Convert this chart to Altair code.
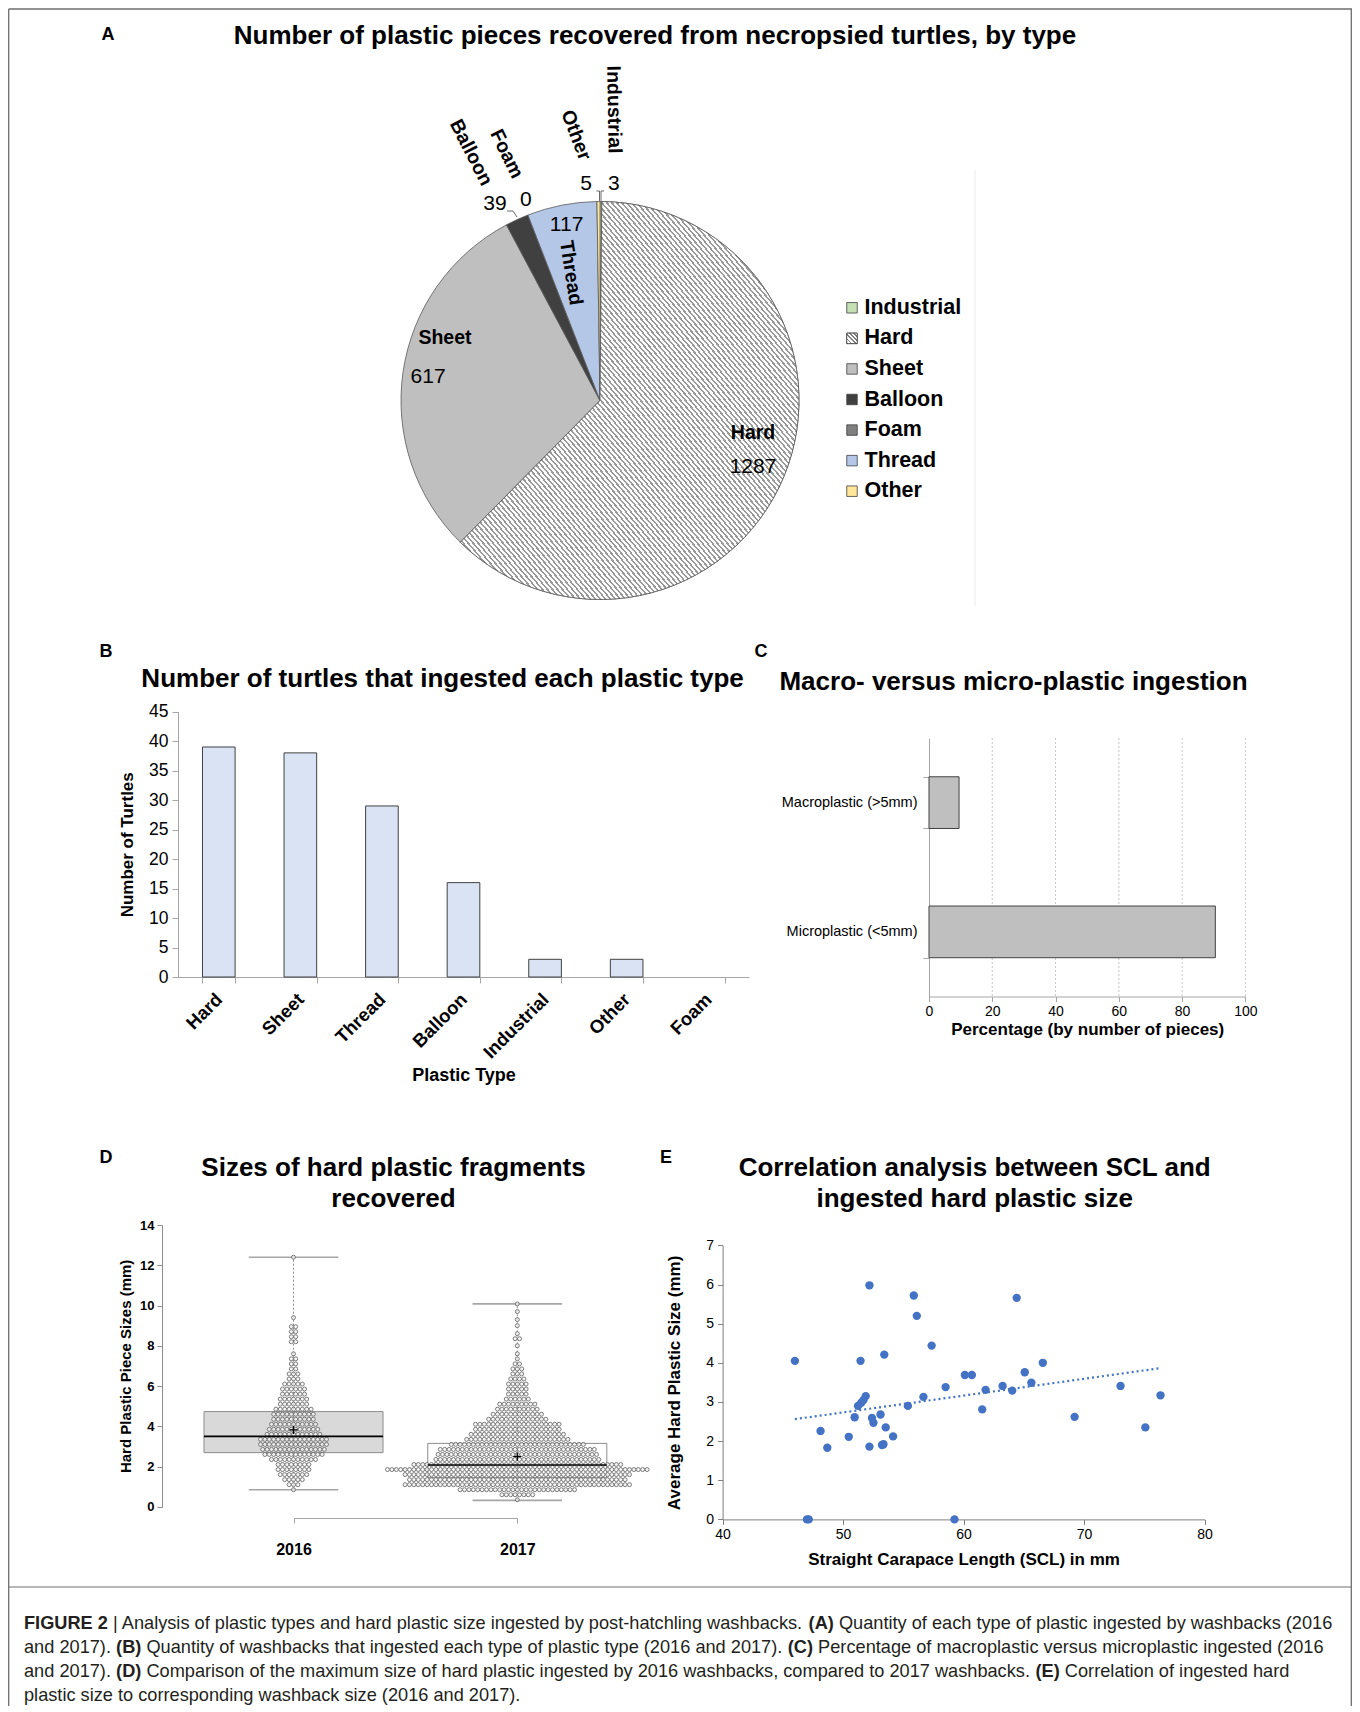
import math
import altair as alt
import pandas as pd

FONT = "Liberation Sans, Arial, Helvetica, sans-serif"

# ============================ data ============================
# Panel A - number of plastic pieces by type
pie_types = ["Industrial", "Hard", "Sheet", "Balloon", "Foam", "Thread", "Other"]
pie_counts = [3, 1287, 617, 39, 0, 117, 5]

# Panel B - number of turtles that ingested each type
turtle_types = ["Hard", "Sheet", "Thread", "Balloon", "Industrial", "Other", "Foam"]
turtle_counts = [39, 38, 29, 16, 3, 3, 0]

# Panel C - macro vs micro plastic (% of pieces)
size_classes = ["Macroplastic (>5mm)", "Microplastic (<5mm)"]
size_percent = [9.5, 90.5]

# Panel D - box plot summaries per year
years = ["2016", "2017"]
box_low = [0.85, 0.32]
box_q1 = [2.69, 1.45]
box_median = [3.50, 2.08]
box_q3 = [4.73, 3.15]
box_high = [12.40, 10.08]
box_mean = [3.82, 2.49]

# Panel D - beeswarm rows (piece size in mm, number of pieces in the row)
swarm16_size = [0.85, 1.1, 1.35, 1.6, 1.85, 2.1, 2.35, 2.6, 2.85, 3.1, 3.35, 3.6, 3.85,
                4.1, 4.35, 4.6, 4.85, 5.1, 5.35, 5.6, 5.85, 6.1, 6.35, 6.6, 6.85, 7.1,
                7.35, 7.6, 8.2, 8.45, 8.7, 8.95, 9.4, 12.4]
swarm16_count = [1, 3, 5, 7, 8, 8, 11, 14, 15, 16, 16, 13, 12, 11, 10, 10, 9, 7, 7, 6,
                 6, 5, 3, 3, 2, 2, 2, 1, 2, 2, 2, 2, 1, 1]
swarm17_size = [0.35, 0.6, 0.85, 1.1, 1.35, 1.6, 1.85, 2.1, 2.35, 2.6, 2.85, 3.1, 3.35,
                3.6, 3.85, 4.1, 4.35, 4.6, 4.85, 5.1, 5.35, 5.6, 5.85, 6.1, 6.35, 6.6,
                6.85, 7.1, 7.35, 7.6, 8.0, 8.35, 8.6, 9.0, 9.3, 9.7, 10.08]
swarm17_count = [1, 8, 27, 52, 50, 52, 60, 48, 38, 37, 36, 31, 24, 22, 20, 20, 14, 12,
                 10, 9, 6, 5, 5, 5, 4, 3, 3, 2, 1, 1, 1, 2, 1, 1, 1, 1, 1]

# Panel E - SCL vs average hard plastic size
scl_mm = [46.0, 47.0, 47.15, 48.13, 48.69, 50.47, 50.96, 51.24, 51.45, 51.51, 51.70,
          51.88, 52.19, 52.19, 52.40, 52.52, 53.11, 53.23, 53.35, 53.42, 53.54, 54.15,
          55.38, 55.87, 56.12, 56.67, 57.35, 58.51, 59.25, 60.11, 60.69, 61.55, 61.83,
          63.24, 64.04, 64.41, 65.08, 65.63, 66.58, 69.22, 73.03, 75.09, 76.35]
avg_size_mm = [4.05, 0.0, 0.0, 2.26, 1.83, 2.11, 2.61, 2.90, 4.05, 2.98, 3.05, 3.15,
               5.98, 1.86, 2.59, 2.47, 2.68, 1.90, 1.92, 4.21, 2.35, 2.12, 2.90, 5.72,
               5.20, 3.13, 4.44, 3.38, 0.0, 3.69, 3.69, 2.81, 3.31, 3.41, 3.29, 5.66,
               3.76, 3.49, 4.00, 2.62, 3.41, 2.35, 3.17]

# Caption: (text, bold) segments per line
caption_segments = [
    [("FIGURE 2", True), (" | Analysis of plastic types and hard plastic size ingested by post-hatchling washbacks. ", False),
     ("(A)", True), (" Quantity of each type of plastic ingested by washbacks (2016", False)],
    [("and 2017). ", False), ("(B)", True),
     (" Quantity of washbacks that ingested each type of plastic type (2016 and 2017). ", False),
     ("(C)", True), (" Percentage of macroplastic versus microplastic ingested (2016", False)],
    [("and 2017). ", False), ("(D)", True),
     (" Comparison of the maximum size of hard plastic ingested by 2016 washbacks, compared to 2017 washbacks. ", False),
     ("(E)", True), (" Correlation of ingested hard", False)],
    [("plastic size to corresponding washback size (2016 and 2017).", False)],
]

# ============================ style / layout ============================
W, H = 1344, 1698
pie_colors = ["#c5e0b4", "#ffffff", "#bfbfbf", "#404040", "#7f7f7f", "#b4c7e7", "#ffe699"]

# Arial/Liberation Sans advance widths (1/1000 em) for laying out mixed-weight caption text
_REG = {" ": 278, "!": 278, "(": 333, ")": 333, ",": 278, "-": 333, ".": 278, "/": 278, ":": 278,
        ";": 278, "|": 260, ">": 584, "<": 584,
        "A": 667, "B": 667, "C": 722, "D": 722, "E": 667, "F": 611, "G": 778, "H": 722, "I": 278,
        "J": 500, "K": 667, "L": 556, "M": 833, "N": 722, "O": 778, "P": 667, "Q": 778, "R": 722,
        "S": 667, "T": 611, "U": 722, "V": 667, "W": 944, "X": 667, "Y": 667, "Z": 611,
        "a": 556, "b": 556, "c": 500, "d": 556, "e": 556, "f": 278, "g": 556, "h": 556, "i": 222,
        "j": 222, "k": 500, "l": 222, "m": 833, "n": 556, "o": 556, "p": 556, "q": 556, "r": 333,
        "s": 500, "t": 278, "u": 556, "v": 500, "w": 722, "x": 500, "y": 500, "z": 500}
_BOLD = {" ": 278, "(": 333, ")": 333, "A": 722, "B": 722, "C": 722, "D": 722, "E": 667, "F": 611,
         "G": 778, "I": 278, "R": 722, "U": 722, "2": 556}


def em_width(s, bold):
    tbl = _BOLD if bold else _REG
    return sum(tbl.get(ch, 556) for ch in s) / 1000.0


def P(v):
    """page pixel -> plot pixel (page has an 8px margin)"""
    return v - 8


def stripes(n, frac=0.42, line="#9a9a9a", bg="#ffffff"):
    stops = []
    for i in range(n):
        a = i / n
        b = (i + frac) / n
        c = (i + 1) / n
        stops += [{"offset": round(a, 6), "color": line}, {"offset": round(b, 6), "color": line},
                  {"offset": round(b, 6), "color": bg}, {"offset": round(min(c, 1.0), 6), "color": bg}]
    return {"gradient": "linear", "x1": 0, "y1": 1, "x2": 1, "y2": 0, "stops": stops}


def text_layer(txt, x, y, size, bold=False, align="center", color="black", angle=0):
    props = dict(align=align, baseline="middle", fontSize=size,
                 fontWeight="bold" if bold else "normal", font=FONT, color=color)
    if angle:
        props["angle"] = angle
    return alt.Chart(alt.Data(values=[{"t": txt}])).mark_text(**props).encode(
        x=alt.value(P(x)), y=alt.value(P(y)), text="t:N")


layers = []

# ============================ frame ============================
frame_color = "#6e6e6e"
one = alt.Data(values=[{"a": 1}])
layers.append(alt.Chart(one).mark_rule(color=frame_color, strokeWidth=1.3).encode(
    x=alt.value(0.7), x2=alt.value(1344), y=alt.value(1)))
layers.append(alt.Chart(one).mark_rule(color=frame_color, strokeWidth=1.3).encode(
    x=alt.value(0.7), y=alt.value(1), y2=alt.value(H)))
layers.append(alt.Chart(one).mark_rule(color=frame_color, strokeWidth=1.3).encode(
    x=alt.value(1343.3), y=alt.value(1), y2=alt.value(H)))
layers.append(alt.Chart(one).mark_rule(color=frame_color, strokeWidth=1.0).encode(
    x=alt.value(0.7), x2=alt.value(1343.3), y=alt.value(P(1587))))
# faint chart-area edge in panel A
layers.append(alt.Chart(one).mark_rule(color="#ececec", strokeWidth=1).encode(
    x=alt.value(P(975)), y=alt.value(P(169)), y2=alt.value(P(606))))

# ============================ panel A: pie ============================
CX, CY, R = P(600), P(400.5), 199
pie_df = pd.DataFrame({"type": pie_types, "count": pie_counts,
                       "order": list(range(len(pie_types)))})
total = sum(pie_counts)
pie_base = alt.Chart(pie_df).transform_window(
    cum="sum(count)", sort=[alt.SortField("order", order="ascending")], frame=[None, 0]
).transform_calculate(start="datum.cum - datum.count")
theta = alt.Theta("start:Q", scale=alt.Scale(domain=[0, total], range=[0, 2 * math.pi]), stack=False)
theta2 = alt.Theta2("cum:Q")

layers.append(pie_base.mark_arc(outerRadius=R, stroke="#595959", strokeWidth=0.8).encode(
    theta=theta, theta2=theta2, x=alt.value(CX), y=alt.value(CY),
    color=alt.Color("type:N", scale=alt.Scale(domain=pie_types, range=pie_colors), legend=None)))
layers.append(pie_base.transform_filter("datum.type === 'Hard'").mark_arc(
    outerRadius=R, fill=stripes(136), stroke="#595959", strokeWidth=0.8).encode(
    theta=theta, theta2=theta2, x=alt.value(CX), y=alt.value(CY)))

# label layout (in pie-radius units relative to the centre) - annotation positions
name_layout = {"Hard": (0.769, 0.163, 0), "Sheet": (-0.779, -0.314, 0),
               "Thread": (-0.146, -0.641, 81), "Balloon": (-0.648, -1.246, 63),
               "Foam": (-0.469, -1.239, 64), "Other": (-0.121, -1.334, 69),
               "Industrial": (0.070, -1.462, 89)}
num_layout = {"Hard": (0.769, 0.334), "Sheet": (-0.864, -0.120), "Thread": (-0.168, -0.882),
              "Balloon": (-0.528, -0.987), "Foam": (-0.373, -1.008), "Other": (-0.070, -1.088),
              "Industrial": (0.070, -1.088)}
pie_xs = alt.Scale(domain=[-1, 1], range=[CX - R, CX + R])
pie_ys = alt.Scale(domain=[-1, 1], range=[CY - R, CY + R])
names_df = pd.DataFrame({"type": pie_types,
                         "ux": [name_layout[t][0] for t in pie_types],
                         "uy": [name_layout[t][1] for t in pie_types],
                         "rot": [name_layout[t][2] for t in pie_types]})
nums_df = pd.DataFrame({"type": pie_types, "count": pie_counts,
                        "ux": [num_layout[t][0] for t in pie_types],
                        "uy": [num_layout[t][1] for t in pie_types]})
layers.append(alt.Chart(names_df).mark_text(fontSize=19.5, fontWeight="bold", font=FONT,
                                            color="black", baseline="middle").encode(
    x=alt.X("ux:Q", scale=pie_xs, axis=None), y=alt.Y("uy:Q", scale=pie_ys, axis=None),
    text="type:N", angle=alt.Angle("rot:Q", scale=None)))
layers.append(alt.Chart(nums_df).mark_text(fontSize=21, font=FONT, color="black",
                                           baseline="middle").encode(
    x=alt.X("ux:Q", scale=pie_xs, axis=None), y=alt.Y("uy:Q", scale=pie_ys, axis=None),
    text=alt.Text("count:Q")))

# small leader lines (annotation)
leader_pts = [(0, 507, 211), (0, 513, 211), (0, 517, 217),
              (1, 596.5, 191), (1, 599.5, 191), (1, 599.5, 201),
              (2, 604, 191), (2, 601, 191), (2, 601, 201)]
lead_df = pd.DataFrame({"seg": [p[0] for p in leader_pts],
                        "o": list(range(len(leader_pts))),
                        "ux": [(p[1] - 600) / R for p in leader_pts],
                        "uy": [(p[2] - 400.5) / R for p in leader_pts]})
layers.append(alt.Chart(lead_df).mark_line(color="#595959", strokeWidth=0.9).encode(
    x=alt.X("ux:Q", scale=pie_xs, axis=None), y=alt.Y("uy:Q", scale=pie_ys, axis=None),
    detail="seg:N", order="o:Q"))

# manual legend
leg_df = pd.DataFrame({"type": pie_types, "i": list(range(len(pie_types)))})
leg_y = alt.Y("i:Q", scale=alt.Scale(domain=[0, len(pie_types) - 1], range=[P(307.8), P(491.2)]), axis=None)
layers.append(alt.Chart(leg_df).mark_square(size=110, stroke="#404040", strokeWidth=0.8, opacity=1).encode(
    x=alt.value(P(852)), y=leg_y,
    color=alt.Color("type:N", scale=alt.Scale(domain=pie_types, range=pie_colors), legend=None)))
layers.append(alt.Chart(leg_df).transform_filter("datum.type === 'Hard'").mark_square(
    size=110, stroke="#404040", strokeWidth=0.8, opacity=1, fill=stripes(5, frac=0.35, line="#808080")).encode(
    x=alt.value(P(852)), y=leg_y))
layers.append(alt.Chart(leg_df).mark_text(align="left", baseline="middle", fontSize=21.5,
                                          fontWeight="bold", font=FONT, color="black").encode(
    x=alt.value(P(864.5)), y=leg_y, text="type:N"))

# ============================ panel B ============================
b_df = pd.DataFrame({"type": turtle_types, "n": turtle_counts})
layers.append(alt.Chart(b_df).transform_filter("datum.n > 0").mark_bar(
    fill="#dae3f3", stroke="#404040", strokeWidth=1).encode(
    x=alt.X("type:N", sort=turtle_types,
            scale=alt.Scale(domain=turtle_types, range=[P(178), P(749)], paddingInner=0.6, paddingOuter=0.3),
            axis=alt.Axis(orient="bottom", offset=P(977) - H, title="Plastic Type", labelAngle=-45,
                          labelAlign="right", labelBaseline="middle", labelFontSize=18.5,
                          labelFontWeight="bold", labelFont=FONT, labelColor="black", labelPadding=13,
                          tickBand="extent", tickSize=6, tickColor="#a6a6a6", domainColor="#a6a6a6",
                          titleFont=FONT, titleFontSize=18, titleFontWeight="bold", titleColor="black",
                          titlePadding=5, labelOverlap=False)),
    y=alt.Y("n:Q", scale=alt.Scale(domain=[0, 45], range=[P(977), P(711.6)], nice=False),
            axis=alt.Axis(orient="left", offset=-P(178), values=list(range(0, 46, 5)), grid=False,
                          title="Number of Turtles", labelFontSize=17.5, labelFont=FONT, labelColor="black",
                          tickSize=6, tickColor="#a6a6a6", domainColor="#a6a6a6", labelPadding=4,
                          titleFont=FONT, titleFontSize=17, titleFontWeight="bold", titleColor="black",
                          titlePadding=12, labelOverlap=False))))

# ============================ panel C ============================
c_df = pd.DataFrame({"cls": size_classes, "pct": size_percent})
c_ticks = [0, 20, 40, 60, 80, 100]
c_xs = alt.Scale(domain=[0, 100], range=[P(929), P(1245.4)], nice=False)
layers.append(alt.Chart(pd.DataFrame({"v": c_ticks[1:]})).mark_rule(
    color="#c8c8c8", strokeDash=[2, 2], strokeWidth=1).encode(
    x=alt.X("v:Q", scale=c_xs, axis=None), y=alt.value(P(738)), y2=alt.value(P(996.5))))
layers.append(alt.Chart(c_df).mark_bar(fill="#bfbfbf", stroke="#404040", strokeWidth=1).encode(
    y=alt.Y("cls:N", sort=size_classes,
            scale=alt.Scale(domain=size_classes, range=[P(738), P(996.5)], paddingInner=0.6, paddingOuter=0.3),
            axis=alt.Axis(orient="left", offset=-P(929), title=None, tickBand="extent", tickSize=6,
                          tickColor="#a6a6a6", domainColor="#a6a6a6", labelFontSize=14.5, labelFont=FONT,
                          labelColor="black", labelPadding=6)),
    x=alt.X("pct:Q", scale=c_xs,
            axis=alt.Axis(orient="bottom", offset=P(996.5) - H, values=c_ticks, grid=False,
                          tickSize=5, tickColor="#a6a6a6", domainColor="#a6a6a6",
                          labelFontSize=14, labelFont=FONT, labelColor="black", labelPadding=3,
                          labelFlush=False, title="Percentage (by number of pieces)",
                          titleFont=FONT, titleFontSize=17, titleFontWeight="bold", titleColor="black",
                          titlePadding=3))))

# ============================ panel D ============================
DOT_STEP = 4.4 / 223.8   # horizontal dot spacing in year-index units
BOX_HALF = 0.40
CAP_HALF = 0.20
d_xs = alt.Scale(domain=[0, 1], range=[P(293.5), P(517.3)], nice=False, zero=False)
d_ys = alt.Scale(domain=[0, 14], range=[P(1506.8), P(1225)], nice=False)
box_df = pd.DataFrame({"year": years, "idx": list(range(len(years))), "lo": box_low, "q1": box_q1,
                       "med": box_median, "q3": box_q3, "hi": box_high, "mean": box_mean})
box_base = alt.Chart(box_df).transform_calculate(
    x0=f"datum.idx - {BOX_HALF}", x1=f"datum.idx + {BOX_HALF}",
    c0=f"datum.idx - {CAP_HALF}", c1=f"datum.idx + {CAP_HALF}")

label_expr = "[" + ",".join(f"'{y}'" for y in years) + "][datum.value]"
layers.append(box_base.mark_rect(stroke="#8c8c8c", strokeWidth=1).encode(
    x=alt.X("x0:Q", scale=d_xs,
            axis=alt.Axis(orient="bottom", offset=P(1518) - H, values=[0, 1], labelExpr=label_expr,
                          grid=False, tickSize=5, tickColor="#a6a6a6", domainColor="#a6a6a6",
                          labelFontSize=16, labelFontWeight="bold", labelFont=FONT, labelColor="black",
                          labelPadding=18, labelFlush=False, title=None)),
    x2="x1:Q",
    y=alt.Y("q1:Q", scale=d_ys,
            axis=alt.Axis(orient="left", offset=-P(162), values=list(range(0, 15, 2)), grid=False,
                          title="Hard Plastic Piece Sizes (mm)", labelFontSize=13, labelFontWeight="bold",
                          labelFont=FONT, labelColor="black", tickSize=5, tickColor="#8c8c8c",
                          domainColor="#8c8c8c", labelPadding=3, titleFont=FONT, titleFontSize=15,
                          titleFontWeight="bold", titleColor="black", titlePadding=6, labelOverlap=False)),
    y2="q3:Q",
    fill=alt.Fill("year:N", scale=alt.Scale(domain=years, range=["#d9d9d9", "#ffffff"]), legend=None)))
layers.append(box_base.mark_rule(color="#8c8c8c", strokeDash=[2, 2], strokeWidth=1).encode(
    x=alt.X("idx:Q", scale=d_xs, axis=None), y=alt.Y("lo:Q", scale=d_ys, axis=None), y2="hi:Q"))
for fld in ["lo", "hi"]:
    layers.append(box_base.mark_rule(color="#a6a6a6", strokeWidth=1.6).encode(
        x=alt.X("c0:Q", scale=d_xs, axis=None), x2="c1:Q",
        y=alt.Y(f"{fld}:Q", scale=d_ys, axis=None)))

rows = []
for yi, (sizes, counts) in enumerate([(swarm16_size, swarm16_count), (swarm17_size, swarm17_count)]):
    for s, n in zip(sizes, counts):
        for k in range(n):
            rows.append({"year": years[yi], "idx": yi, "size": s, "k": k, "n": n})
swarm_df = pd.DataFrame(rows)
layers.append(alt.Chart(swarm_df).transform_calculate(
    xpos=f"datum.idx + (datum.k - (datum.n - 1) / 2) * {DOT_STEP}"
).mark_point(shape="circle", size=16, filled=False, stroke="#6e6e6e", strokeWidth=0.9,
             fill="#f2f2f2", fillOpacity=0.7, opacity=1).encode(
    x=alt.X("xpos:Q", scale=d_xs, axis=None), y=alt.Y("size:Q", scale=d_ys, axis=None)))
layers.append(box_base.mark_rule(color="black", strokeWidth=1.6).encode(
    x=alt.X("x0:Q", scale=d_xs, axis=None), x2="x1:Q", y=alt.Y("med:Q", scale=d_ys, axis=None)))
layers.append(box_base.mark_point(shape="M-1,0L1,0M0,-1L0,1", size=64, filled=False, color="black",
                                  strokeWidth=1.3, opacity=1).encode(
    x=alt.X("idx:Q", scale=d_xs, axis=None), y=alt.Y("mean:Q", scale=d_ys, axis=None)))

# ============================ panel E ============================
e_df = pd.DataFrame({"scl": scl_mm, "avg": avg_size_mm})
e_xs = alt.Scale(domain=[40, 80], range=[P(722.6), P(1204.5)], nice=False, zero=False)
e_ys = alt.Scale(domain=[0, 7], range=[P(1519.4), P(1245.4)], nice=False)
layers.append(alt.Chart(e_df).mark_circle(size=70, color="#4472c4", opacity=1).encode(
    x=alt.X("scl:Q", scale=e_xs,
            axis=alt.Axis(orient="bottom", offset=P(1519.4) - H, values=[40, 50, 60, 70, 80], grid=False,
                          title="Straight Carapace Length (SCL) in mm", labelFontSize=14, labelFont=FONT,
                          labelColor="black", tickSize=5, tickColor="#7f7f7f", domainColor="#7f7f7f",
                          labelPadding=3, labelFlush=False, titleFont=FONT, titleFontSize=17,
                          titleFontWeight="bold", titleColor="black", titlePadding=10)),
    y=alt.Y("avg:Q", scale=e_ys,
            axis=alt.Axis(orient="left", offset=-P(722.6), values=list(range(0, 8)), grid=False,
                          title="Average Hard Plastic Size (mm)", labelFontSize=14, labelFont=FONT,
                          labelColor="black", tickSize=5, tickColor="#7f7f7f", domainColor="#7f7f7f",
                          labelPadding=4, titleFont=FONT, titleFontSize=17, titleFontWeight="bold",
                          titleColor="black", titlePadding=22))))
layers.append(alt.Chart(e_df).transform_regression("scl", "avg", method="linear").mark_line(
    color="#4472c4", strokeWidth=2.2, strokeDash=[2, 3]).encode(
    x=alt.X("scl:Q", scale=e_xs, axis=None), y=alt.Y("avg:Q", scale=e_ys, axis=None)))

# ============================ titles, letters ============================
layers += [
    text_layer("A", 108, 35, 18, bold=True),
    text_layer("Number of plastic pieces recovered from necropsied turtles, by type", 655, 36, 26, bold=True),
    text_layer("B", 106, 652, 18, bold=True),
    text_layer("Number of turtles that ingested each plastic type", 442.6, 679, 26, bold=True),
    text_layer("C", 761, 652, 18, bold=True),
    text_layer("Macro- versus micro-plastic ingestion", 1013.5, 682, 26, bold=True),
    text_layer("D", 106, 1158, 18, bold=True),
    text_layer("Sizes of hard plastic fragments", 393.5, 1168, 26, bold=True),
    text_layer("recovered", 393.5, 1198.5, 26, bold=True),
    text_layer("E", 666, 1158, 18, bold=True),
    text_layer("Correlation analysis between SCL and", 974.7, 1168, 26, bold=True),
    text_layer("ingested hard plastic size", 974.7, 1198.5, 26, bold=True),
]

# ============================ caption (mixed weights) ============================
CAP_FS = 18.2
CAP_Y = [1624, 1648, 1672, 1696]
cap_recs = []
for li, segs in enumerate(caption_segments):
    pos = 0.0
    for txt, bold in segs:
        lead = len(txt) - len(txt.lstrip(" "))
        cap_recs.append({"line": li, "em": pos + lead * 0.278, "t": txt.strip(), "bold": bold})
        pos += em_width(txt, bold)
cap_df = pd.DataFrame(cap_recs)
cap_x = alt.X("em:Q", scale=alt.Scale(domain=[0, 1], range=[P(24), P(24) + CAP_FS]), axis=None)
cap_y = alt.Y("line:Q", scale=alt.Scale(domain=[0, 3], range=[P(CAP_Y[0]), P(CAP_Y[3])]), axis=None)
for bold in (False, True):
    layers.append(alt.Chart(cap_df).transform_filter(
        "datum.bold" if bold else "!datum.bold").mark_text(
        align="left", baseline="middle", fontSize=CAP_FS, font=FONT, color="#231f20",
        fontWeight="bold" if bold else "normal").encode(x=cap_x, y=cap_y, text="t:N"))

chart = alt.layer(*layers).resolve_scale(
    x="independent", y="independent", color="independent", fill="independent",
    theta="independent", angle="independent"
).resolve_axis(x="independent", y="independent").properties(
    width=W, height=H, padding=0, autosize=alt.AutoSizeParams(type="none")
).configure_view(strokeWidth=0)

chart.save("out.html", embed_options={"renderer": "svg", "actions": False})
